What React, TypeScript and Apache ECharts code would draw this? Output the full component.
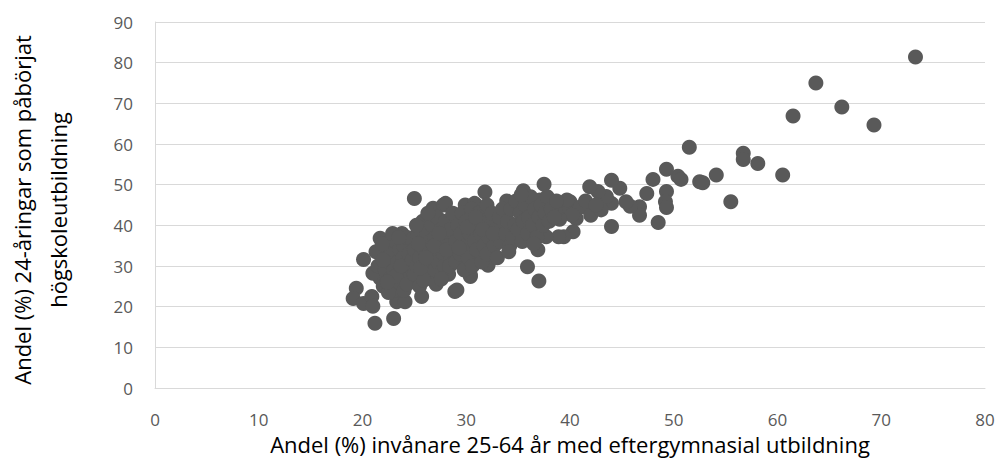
import React, { useEffect, useRef } from "react";
import * as echarts from "echarts";

const xTitle = "Andel (%) invånare 25-64 år med eftergymnasial utbildning";
const yTitleLines = ["Andel (%) 24-åringar som påbörjat", "högskoleutbildning"];

const outliers: [number, number][] = [
  [73.3, 81.4], [63.7, 75.0], [66.2, 69.1], [69.3, 64.7], [61.5, 66.9], [51.5, 59.2],
  [56.7, 57.7], [56.7, 56.2], [58.1, 55.2], [54.1, 52.4], [60.5, 52.4], [55.5, 45.8],
  [52.5, 50.7], [52.8, 50.5], [50.4, 52.1], [50.7, 51.3], [49.3, 53.8], [48.0, 51.3],
  [49.3, 48.3], [49.2, 45.8], [49.3, 44.4], [48.5, 40.7], [47.4, 47.8], [46.7, 44.6],
  [46.7, 42.5], [45.8, 44.7], [45.4, 45.8], [44.8, 49.1], [44.0, 51.1], [44.0, 45.4],
  [44.0, 39.7], [43.5, 47.1], [42.7, 48.3], [41.9, 49.5], [41.9, 43.8], [40.6, 41.7],
  [40.0, 45.8], [40.3, 38.4], [39.4, 37.2], [41.0, 44.5], [42.0, 42.5], [43.0, 43.8],
  [41.5, 46.0], [39.5, 44.0], [40.2, 42.5], [39.0, 41.5], [38.6, 43.5], [42.5, 45.0],
];

const edgePoints: [number, number][] = [
  [36.9, 34.0], [35.9, 29.8], [37.0, 26.3], [38.9, 37.2], [37.7, 37.2],
  [37.5, 50.1], [35.5, 48.5], [31.8, 48.2], [33.9, 46.0], [37.1, 46.2], [39.7, 46.2],
  [25.0, 46.6], [26.8, 44.2], [27.8, 45.0], [30.0, 44.2], [28.0, 45.4], [29.9, 45.0], [30.8, 45.4],
  [21.7, 36.8], [22.7, 36.4], [23.8, 38.0], [25.4, 39.2], [26.5, 41.7], [20.1, 31.6],
  [19.4, 24.5], [19.1, 22.0], [20.1, 20.8], [20.9, 22.5], [21.0, 20.1], [21.2, 15.9],
  [23.0, 17.1], [23.3, 21.2], [24.1, 21.2], [25.7, 22.5], [27.2, 27.8], [28.9, 23.7],
  [29.1, 24.1], [30.4, 27.4], [30.4, 27.8], [32.1, 30.2], [32.1, 30.7], [31.0, 32.7],
  [27.5, 27.8], [21.7, 27.0], [21.0, 28.2],
];

const band21to24: [number, number][] = [
  [21.5, 30], [21.8, 33], [22.0, 25], [22.2, 29], [22.3, 35], [22.5, 31], [22.7, 27],
  [22.8, 33], [23.0, 24], [23.0, 29], [23.2, 36], [23.4, 31], [23.5, 26], [23.6, 34],
  [23.8, 28], [23.9, 32], [24.0, 35], [24.0, 24], [24.2, 30], [24.3, 37], [24.5, 27],
  [24.5, 33], [21.3, 33.5], [22.0, 31.5], [22.5, 23.5], [23.2, 27.5], [23.7, 30],
  [24.3, 25.5], [24.8, 31.5], [24.8, 36.5], [21.9, 35.5], [22.9, 38], [23.5, 37], [22.4, 26],
];

const band25to28: [number, number][] = [
  [25.0, 28], [25.0, 34], [25.2, 30], [25.3, 38], [25.5, 25], [25.5, 32], [25.7, 36],
  [25.8, 41], [26.0, 29], [26.0, 34], [26.2, 27], [26.2, 38], [26.4, 31], [26.5, 36],
  [26.7, 40], [26.8, 33], [27.0, 29], [27.0, 37], [27.2, 42], [27.3, 31], [27.5, 35],
  [27.6, 39], [27.8, 33], [27.9, 30], [28.0, 37], [28.0, 41], [28.2, 35], [28.3, 28],
  [28.5, 32], [28.5, 39], [28.7, 43], [25.2, 40], [25.9, 26.5], [26.3, 43], [27.1, 25.5],
  [27.6, 26.8], [28.4, 30], [26.9, 35], [25.6, 29.5], [25.4, 35.5], [26.1, 32], [27.4, 38], [28.1, 34],
];

const band29to33: [number, number][] = [
  [29.0, 31], [29.0, 36], [29.2, 40], [29.4, 33], [29.5, 38], [29.6, 43], [29.8, 29],
  [30.0, 35], [30.0, 41], [30.2, 32], [30.3, 38], [30.5, 44], [30.6, 30], [30.8, 36],
  [31.0, 40], [31.0, 34], [31.2, 43], [31.4, 38], [31.5, 31], [31.7, 35], [31.8, 41],
  [32.0, 45], [32.0, 33], [32.2, 37], [32.4, 40], [32.5, 43], [32.7, 35], [32.9, 39],
  [33.0, 32], [33.2, 42], [33.3, 36], [29.3, 34.5], [30.1, 39.5], [30.9, 42], [31.6, 39],
  [32.6, 38], [33.5, 44],
];

const band34to38: [number, number][] = [
  [33.8, 38], [34.0, 41], [34.2, 35], [34.3, 44], [34.5, 37], [34.7, 40], [34.8, 46],
  [35.0, 39], [35.2, 43], [35.4, 36], [35.5, 41], [35.7, 45], [35.9, 38], [36.0, 42],
  [36.2, 47], [36.4, 40], [36.6, 44], [36.8, 37], [37.0, 42], [37.2, 45], [37.4, 40],
  [37.6, 43], [37.8, 47], [38.0, 41], [38.2, 44], [38.5, 42], [38.7, 46], [35.3, 47.5],
  [36.5, 35.5], [34.1, 33.5],
];

const xTicks = { min: 0, max: 80, interval: 10 };
const yTicks = { min: 0, max: 90, interval: 10 };

const allPoints = [
  ...outliers, ...edgePoints, ...band21to24, ...band25to28, ...band29to33, ...band34to38,
];

const FONT = "'Open Sans', 'Noto Sans', sans-serif";
const TXT = "#595959";

export default function App() {
  const ref = useRef<HTMLDivElement>(null);
  useEffect(() => {
    if (!ref.current) return;
    const chart = echarts.init(ref.current, null, { renderer: "svg" });
    chart.setOption({
      animation: false,
      backgroundColor: "#ffffff",
      textStyle: { fontFamily: FONT },
      grid: { left: 155, right: 15, top: 22, bottom: 83, containLabel: false },
      xAxis: {
        type: "value",
        ...xTicks,
        axisLine: { show: true, lineStyle: { color: "#d9d9d9" } },
        axisTick: { show: false },
        splitLine: { show: false },
        axisLabel: { color: TXT, fontSize: 17, margin: 23, fontFamily: FONT },
        name: xTitle,
        nameLocation: "middle",
        nameGap: 35,
        nameTextStyle: { color: "#000000", fontSize: 22, fontFamily: FONT },
      },
      yAxis: {
        type: "value",
        ...yTicks,
        axisLine: { show: true, lineStyle: { color: "#d9d9d9" } },
        axisTick: { show: false },
        splitLine: { show: true, lineStyle: { color: "#d9d9d9", width: 1 } },
        axisLabel: { color: TXT, fontSize: 17, margin: 22, fontFamily: FONT },
      },
      graphic: [
        {
          type: "text",
          x: 40,
          y: 210,
          rotation: Math.PI / 2,
          style: {
            text: yTitleLines.join("\n"),
            fontSize: 22,
            lineHeight: 36,
            fontFamily: FONT,
            fill: "#000000",
            align: "center",
            verticalAlign: "middle",
          },
        },
      ],
      series: [
        {
          type: "scatter",
          data: allPoints,
          symbol: "circle",
          symbolSize: 15,
          itemStyle: { color: "#595959", opacity: 1 },
        },
      ],
    });
    return () => chart.dispose();
  }, []);
  return <div ref={ref} style={{ width: 1000, height: 471, position: "absolute", left: 0, top: 0 }} />;
}
